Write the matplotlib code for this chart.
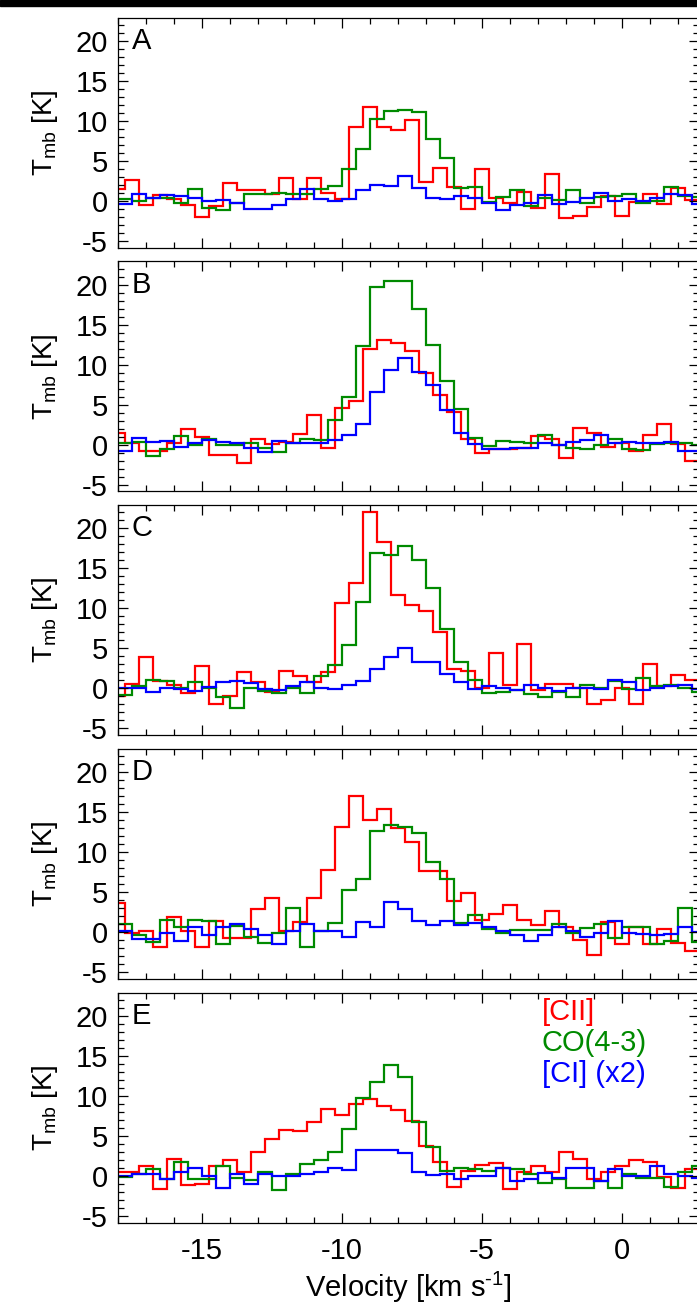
import numpy as np
import matplotlib.pyplot as plt
from matplotlib.patches import Rectangle
from matplotlib.ticker import MultipleLocator

plt.rcParams['font.family'] = ['Liberation Sans', 'DejaVu Sans']
plt.rcParams['mathtext.fontset'] = 'custom'
plt.rcParams['mathtext.rm'] = 'Liberation Sans'
plt.rcParams['mathtext.it'] = 'Liberation Sans'
plt.rcParams['axes.unicode_minus'] = False

# channel centres (km/s): [CII] on a grid offset by a quarter channel from CO / CI
v_cii = np.arange(-18.0, 2.51, 0.5)
v_co = np.arange(-17.75, 2.76, 0.5)

panels = ['A', 'B', 'C', 'D', 'E']

cii = {
    'A': [1.5, 2.6, -0.5, 0.7, 0.2, -0.5, -2.0, -0.7, 2.25, 1.4, 1.3, 0.8, 2.9, 0.2, 2.8, 1.0, 0.2,
          9.2, 11.75, 9.2, 8.9, 10.1, 2.4, 4.1, 1.75, -1.0, 4.0, 0.4, -0.25, 1.1, -0.9, 3.4, -2.1,
          -1.9, -0.75, 0.6, -1.9, -0.1, 0.8, -0.4, 1.6, 0.1],
    'B': [1.4, 0.2, -0.8, -0.75, 0.2, 1.95, 1.0, -1.25, -1.25, -2.3, 0.75, 0.1, 0.3, 1.3, 3.7, -0.4,
          4.6, 5.4, 12.0, 13.1, 12.7, 11.7, 8.9, 6.25, 4.1, 0.75, -1.1, -0.6, -0.5, -0.4, 1.05, 0.7,
          -1.7, 2.1, 1.4, -0.3, 0.2, -0.8, 1.2, 2.6, 0.1, -2.0],
    'C': [-0.9, 0.6, 3.95, 0.95, 0.4, -0.6, 2.8, -1.95, -0.9, 2.1, 0.75, -0.4, 2.2, 1.5, 0.75, 2.1,
          10.7, 13.2, 22.1, 18.3, 11.7, 10.4, 9.7, 7.1, 2.4, 2.2, 0.1, 4.4, 0.4, 5.5, -0.2, 0.5,
          0.5, 0.1, -1.95, -1.4, 0.0, -1.95, 3.0, 0.3, 1.7, 1.0],
    'D': [3.7, -0.1, 0.15, -1.9, 1.95, 0.1, -1.9, 1.4, -0.75, -0.75, 2.9, 4.3, 0.1, 1.25, 4.3, 7.8,
          13.2, 17.0, 14.0, 15.4, 13.0, 11.3, 7.6, 7.7, 3.9, 4.9, 1.55, 2.3, 3.4, 1.55, 0.9, 2.6,
          0.6, -0.95, -2.8, 1.25, -1.5, 0.6, -1.45, 0.4, -1.4, -2.3],
    'E': [0.55, 0.55, 1.25, -1.65, 2.1, -1.1, -0.95, 1.25, 2.0, 0.55, 3.0, 4.6, 5.8, 5.6, 6.7, 8.4,
          7.6, 9.0, 9.6, 8.75, 8.3, 6.9, 3.75, 1.75, -1.4, 0.6, 1.4, 1.65, -1.65, 0.55, 1.25, 0.55,
          3.0, 2.1, -0.4, 0.55, 1.25, 1.95, 1.75, -0.1, -1.5, 0.9],
}

co43 = {
    'A': [0.2, 0.0, 0.4, 0.3, -0.3, 1.45, -0.85, -1.2, -0.3, 0.9, 0.8, 1.0, 0.9, 0.9, 1.5, 1.9,
          4.0, 6.5, 10.2, 11.2, 11.4, 11.1, 7.7, 5.4, 1.6, 1.75, -0.1, 0.5, 1.4, -0.7, 0.4, 0.1,
          1.4, -0.3, 0.5, 0.6, 0.8, -0.25, 0.0, 1.75, 0.6, 0.5],
    'B': [0.2, 0.3, -1.45, -0.6, 1.05, -0.1, 0.7, -0.1, 0.0, 0.2, -0.4, -0.95, 0.2, 0.7, 0.55, 3.05,
          5.95, 12.3, 19.7, 20.4, 20.4, 16.9, 12.5, 7.9, 4.4, 0.8, -0.2, 0.4, 0.3, 0.2, 1.15, 0.0,
          -0.4, -0.6, -0.1, 0.75, -0.55, -0.7, 0.1, 0.2, 0.2, 0.0],
    'C': [-0.85, 0.3, 1.05, 0.9, 0.05, 0.75, 0.1, -1.1, -2.4, 0.0, -0.3, -0.6, 0.1, -0.6, 1.6, 2.9,
          5.45, 10.8, 16.9, 16.7, 17.8, 16.1, 12.6, 7.4, 3.25, 1.05, -0.6, -0.4, -0.15, -0.7, -1.1,
          -0.4, -1.1, 0.4, 0.1, 0.95, -0.1, 1.25, 0.25, 0.4, 0.1, -0.4],
    'D': [1.0, -0.35, -1.2, 1.55, 0.7, 1.55, 1.35, -1.5, 0.8, -0.55, -1.3, -0.1, 3.0, -1.8, 0.1, 1.1,
          5.3, 6.7, 12.7, 13.4, 13.2, 12.45, 8.75, 6.7, 1.1, 2.1, 0.4, -0.1, 0.3, 0.3, 0.3, 1.0,
          -0.05, 0.5, 1.0, -0.75, 0.6, 0.6, -1.5, -1.1, 3.0, -1.2],
    'E': [-0.1, 0.2, 0.85, -0.35, 1.8, -0.4, -0.4, 1.25, -0.2, -0.55, 0.55, -1.8, 0.2, 1.45, 1.95, 3.0,
          5.9, 9.8, 11.75, 13.9, 12.4, 6.8, 3.6, 0.6, 1.05, 0.85, 0.6, 1.05, 0.85, 0.3, -0.85, -0.4,
          -1.45, -1.45, -0.6, -1.45, 0.3, -0.3, -0.2, -1.4, 0.55, 1.2],
}

ci_x2 = {
    'A': [-0.4, 0.9, 0.3, 0.7, 0.6, 0.4, 0.0, 0.1, -0.3, -1.05, -1.0, -0.55, 0.2, 1.5, 0.2, 0.0,
          0.2, 1.4, 2.0, 1.9, 3.1, 1.6, 0.4, 0.2, 0.55, 0.4, -0.3, -1.2, -0.55, -0.25, 0.7, -0.4,
          -0.2, 0.3, 1.0, 0.0, 0.2, 0.0, 0.3, 0.85, 0.7, -0.4],
    'B': [-0.85, 0.85, 0.3, 0.4, -0.35, 0.2, 0.55, 0.3, 0.2, -0.4, -0.95, 0.4, 0.2, 0.2, 0.2, 0.55,
          1.25, 2.6, 6.6, 9.3, 10.8, 9.05, 7.5, 4.3, 1.5, 0.1, -0.5, -0.6, -0.4, -0.4, 0.2, 0.0,
          0.3, 0.55, 1.25, 0.2, 0.3, 0.2, 0.2, 0.3, -0.75, -0.75],
    'C': [0.1, 0.1, -0.4, 0.1, -0.1, -0.3, 0.2, 0.75, 0.9, 0.65, -0.1, -0.15, 0.25, 0.75, 0.05, -0.1,
          0.4, 0.95, 2.4, 3.95, 5.0, 3.25, 3.25, 1.8, 0.75, -0.1, 0.25, 0.1, -0.2, 0.4, 0.05, -0.3,
          0.1, 0.1, -0.1, 1.1, 0.85, -0.15, 0.05, 0.3, 0.4, -0.1],
    'D': [0.15, -0.85, -0.85, -0.1, -1.1, 0.6, -0.35, 0.6, 1.0, 0.4, -0.35, -1.45, 0.2, 1.0, 0.1, 0.1,
          -0.65, 1.25, 0.6, 3.8, 2.9, 1.35, 0.85, 1.35, 0.85, 1.1, 0.6, 0.1, -0.35, -1.1, -0.35, 0.6,
          0.1, -0.55, -0.1, 1.35, -0.1, -0.25, -0.35, -0.25, 0.7, 0.0],
    'E': [0.0, 0.2, 0.2, -0.4, 0.5, 0.95, 0.0, -1.45, 0.3, -0.95, 0.2, 0.0, 0.0, 0.3, 0.55, 1.05,
          0.75, 3.2, 3.3, 3.2, 2.9, 0.55, 0.1, 0.2, -0.35, 0.0, 0.0, 1.05, -0.6, -0.4, 0.4, -0.2,
          0.95, 0.95, -0.6, 0.9, 0.0, 0.0, 1.25, 0.2, 0.0, -0.2],
}

red = '#ff0000'
green = '#008a00'
blue = '#0000ff'


def edges(v):
    return np.append(v - 0.25, v[-1] + 0.25)


W, H = 697, 1312
fig = plt.figure(figsize=(W / 100, H / 100), dpi=100)
fig.patches.append(Rectangle((0, 1 - 6 / H), 1, 6 / H, transform=fig.transFigure,
                             color='black', zorder=10))

left_px, right_px = 117.8, 699.0
top0, step, ph = 17.5, 243.8, 230.0
fs = 21

for i, p in enumerate(panels):
    top = top0 + i * step
    ax = fig.add_axes([left_px / W, 1 - (top + ph) / H, (right_px - left_px) / W, ph / H])
    ax.stairs(cii[p], edges(v_cii), baseline=None, color=red, lw=1.6)
    ax.stairs(co43[p], edges(v_co), baseline=None, color=green, lw=1.6)
    ax.stairs(ci_x2[p], edges(v_co), baseline=None, color=blue, lw=1.6)

    ax.set_xlim(-18, -18 + (right_px - left_px) / 28.0)
    ax.set_ylim(-5.85, 22.9)
    ax.xaxis.set_major_locator(MultipleLocator(5))
    ax.xaxis.set_minor_locator(MultipleLocator(1))
    ax.yaxis.set_major_locator(MultipleLocator(5))
    ax.yaxis.set_minor_locator(MultipleLocator(1))
    ax.tick_params(which='both', direction='in', top=True, right=True, labelsize=fs, width=0.9)
    ax.tick_params(which='major', length=7)
    ax.tick_params(which='minor', length=4)
    ax.tick_params(axis='y', pad=7)
    ax.tick_params(axis='x', pad=10)
    for s in ax.spines.values():
        s.set_linewidth(0.9)

    ax.set_ylabel(r'T$_{\rm mb}$ [K]', fontsize=20)
    ax.yaxis.set_label_coords(-0.10, 0.5)
    ax.text(-17.5, 20, p, fontsize=fs, ha='left', va='center')

    if p != 'E':
        ax.tick_params(axis='x', labelbottom=False)
    else:
        ax.set_xlabel('Velocity [km s$^{\u2010' + '1}$]', fontsize=fs, labelpad=4)
        ax.text(-2.86, 20.5, '[CII]', color=red, fontsize=fs, ha='left', va='center')
        ax.text(-2.86, 16.6, 'CO(4-3)', color=green, fontsize=fs, ha='left', va='center')
        ax.text(-2.86, 12.8, '[CI] (x2)', color=blue, fontsize=fs, ha='left', va='center')

fig.savefig('out.png', dpi=100)
